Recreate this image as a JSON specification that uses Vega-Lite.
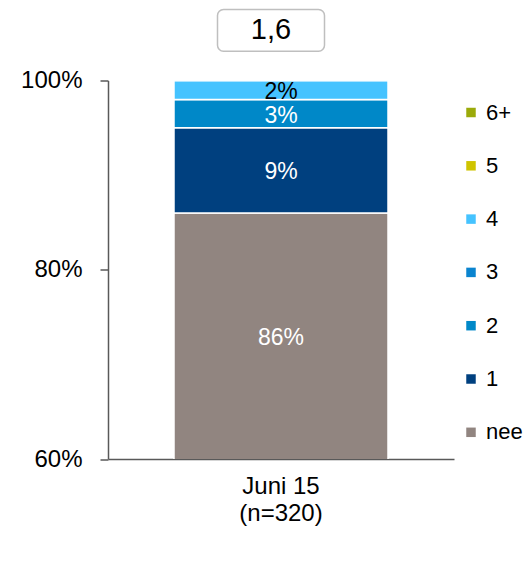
{
  "$schema": "https://vega.github.io/schema/vega-lite/v6.json",
  "width": 346,
  "height": 378.5,
  "autosize": {"type": "none"},
  "padding": {"left": 108, "top": 80.5, "right": 71, "bottom": 114.5},
  "config": {
    "font": "Liberation Sans",
    "view": {"stroke": null},
    "axis": {"labelColor": "black", "domainColor": "#595959", "domainWidth": 1.5, "tickColor": "#595959", "tickWidth": 1.5, "grid": false, "title": null},
    "legend": {"labelFontSize": 22, "labelColor": "black"}
  },
  "data": {
    "values": [
      {"period": "Juni 15", "cat": "nee", "ord": 0, "value": 86},
      {"period": "Juni 15", "cat": "1", "ord": 1, "value": 9},
      {"period": "Juni 15", "cat": "2", "ord": 2, "value": 3},
      {"period": "Juni 15", "cat": "3", "ord": 3, "value": 0},
      {"period": "Juni 15", "cat": "4", "ord": 4, "value": 2},
      {"period": "Juni 15", "cat": "5", "ord": 5, "value": 0},
      {"period": "Juni 15", "cat": "6+", "ord": 6, "value": 0}
    ]
  },
  "transform": [
    {"stack": "value", "groupby": ["period"], "sort": [{"field": "ord", "order": "ascending"}], "as": ["y0", "y1"]}
  ],
  "layer": [
    {
      "mark": {"type": "bar", "width": 214, "clip": true, "stroke": "white", "strokeWidth": 1.5},
      "encoding": {
        "x": {
          "field": "period", "type": "nominal",
          "axis": {"ticks": false, "labelAngle": 0, "labelFontSize": 24, "labelPadding": 15, "labelLineHeight": 27, "labelExpr": "[datum.label, '(n=320)']"}
        },
        "y": {
          "field": "y0", "type": "quantitative",
          "scale": {"domain": [60, 100], "nice": false, "zero": false},
          "axis": {"values": [60, 80, 100], "labelExpr": "datum.value + '%'", "labelFontSize": 24, "tickSize": 8, "labelPadding": 18}
        },
        "y2": {"field": "y1"},
        "color": {
          "field": "cat", "type": "nominal",
          "scale": {
            "domain": ["6+", "5", "4", "3", "2", "1", "nee"],
            "range": ["#9BAA0A", "#CFC400", "#45C3FF", "#0A84CF", "#0088C8", "#00407F", "#918580"]
          },
          "legend": {
            "title": null, "orient": "none", "legendX": 352, "legendY": 21, "padding": 0,
            "symbolType": "square", "symbolSize": 90, "symbolStrokeWidth": 0,
            "labelFontSize": 22, "labelColor": "black", "labelOffset": 4, "rowPadding": 31.3
          }
        }
      }
    },
    {
      "transform": [
        {"filter": "datum.value > 0"},
        {"calculate": "(max(datum.y0, 60) + datum.y1) / 2", "as": "ymid"},
        {"calculate": "datum.value + '%'", "as": "lbl"}
      ],
      "mark": {"type": "text", "fontSize": 23, "dy": 2},
      "encoding": {
        "x": {"field": "period", "type": "nominal"},
        "y": {"field": "ymid", "type": "quantitative"},
        "text": {"field": "lbl"},
        "color": {"condition": {"test": "datum.cat === '4'", "value": "black"}, "value": "white"}
      }
    },
    {
      "data": {"values": [{"period": "Juni 15", "avg": "1,6"}]},
      "transform": [],
      "layer": [
        {
          "mark": {"type": "bar", "width": 107, "xOffset": -10, "fill": "white", "stroke": "#BFBFBF", "strokeWidth": 1.5, "cornerRadius": 6},
          "encoding": {
            "x": {"field": "period", "type": "nominal"},
            "y": {"datum": 107.5},
            "y2": {"datum": 103.1}
          }
        },
        {
          "mark": {"type": "text", "fontSize": 29, "xOffset": -10, "color": "black"},
          "encoding": {
            "x": {"field": "period", "type": "nominal"},
            "y": {"datum": 105.3},
            "text": {"field": "avg"}
          }
        }
      ]
    }
  ]
}
